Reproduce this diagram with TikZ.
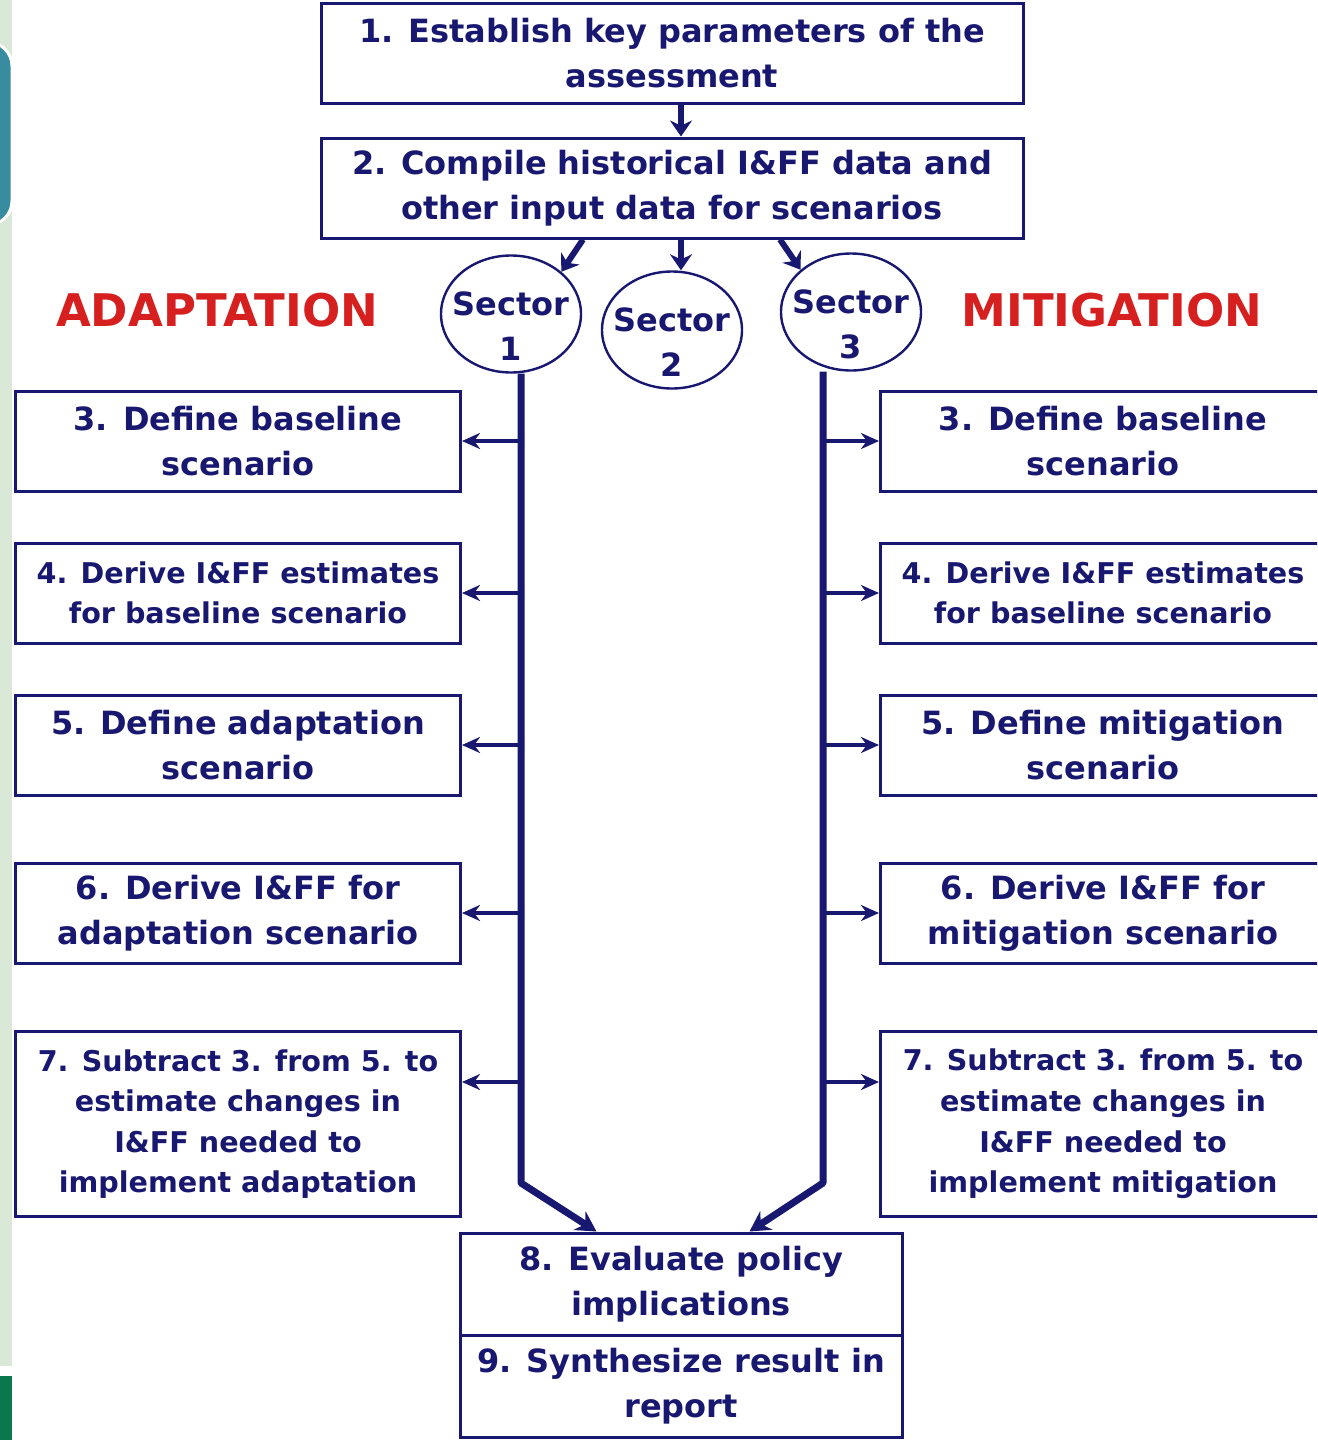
\documentclass[tikz,border=0pt]{standalone}
\usepackage{fontspec}
\setmainfont{DejaVu Sans}
\usepackage{xcolor}
\usetikzlibrary{positioning,shapes.geometric,arrows.meta}

\definecolor{navy}{RGB}{24,24,112}
\definecolor{titlered}{RGB}{214,32,32}
\definecolor{slidegreen}{RGB}{218,232,216}
\definecolor{slideteal}{RGB}{56,140,160}
\definecolor{slidedark}{RGB}{10,120,76}

\tikzset{
  bigtext/.style={font=\bfseries\fontsize{16}{22.5}\selectfont},
  smalltext/.style={font=\bfseries\fontsize{14.3}{20.3}\selectfont},
  topbox/.style={draw=navy, line width=1.5pt, text=navy, align=center, inner sep=0pt,
    minimum width=351pt, minimum height=50pt, bigtext},
  sidebox/.style={draw=navy, line width=1.5pt, text=navy, align=center, inner sep=0pt,
    minimum width=222.5pt, minimum height=50pt, bigtext},
  endbox/.style={draw=navy, line width=1.5pt, text=navy, align=center, inner sep=0pt,
    minimum width=221pt, minimum height=51pt, bigtext},
  sector/.style={ellipse, draw=navy, line width=1.2pt, text=navy, inner xsep=-8pt, inner ysep=-4pt,
    minimum width=70pt, minimum height=58.5pt, font=\bfseries\fontsize{16}{22.5}\selectfont},
  sidetitle/.style={text=titlered, font=\bfseries\fontsize{22.5}{26}\selectfont},
  feed/.style={draw=navy, line width=3pt, -{Stealth[length=8pt,width=11pt]}},
  branch/.style={draw=navy, line width=2pt, -{Stealth[length=9pt,width=8pt]}},
  spine/.style={draw=navy, line width=3.5pt, line join=round, -{Stealth[length=10pt,width=11pt]}}
}

\newcommand{\sectortext}[1]{\raisebox{-7.5pt}[\height][\depth]{\begin{tabular}{@{}c@{}}Sector\\#1\end{tabular}}}

\begin{document}
\begin{tikzpicture}[x=0.5pt,y=-0.5pt]

\clip (0,0) rectangle (1317,1440);
\fill[white] (0,0) rectangle (1317,1440);

% ===== Slide edge =====

\fill[slidegreen] (0,0) rectangle (12,1366);
\fill[slidedark] (0,1376) rectangle (12,1440);
\draw[white, line width=1.5pt, fill=slideteal, rounded corners=12pt] (-60,42) rectangle (12,225);

% ===== Common steps =====

\node[topbox] (s1) at (672,53) {1. Establish key parameters of the\\assessment};
\node[topbox] (s2) at (672,188) {2. Compile historical I\&FF data and\\other input data for scenarios};

% ===== Sectors =====

\node[sector] (sec1) at (511,314) {\sectortext{1}};
\node[sector] (sec2) at (672,330) {\sectortext{2}};
\node[sector] (sec3) at (851,312) {\sectortext{3}};

\node[sidetitle] (adapt) at (217,310) {ADAPTATION};
\node[sidetitle] (mitig) at (1112,310) {MITIGATION};

% ===== Adaptation =====

\node[sidebox] (a3) at (238,441) {3. Define baseline\\scenario};
\node[sidebox, smalltext] (a4) at (238,593) {4. Derive I\&FF estimates\\for baseline scenario};
\node[sidebox] (a5) at (238,745) {5. Define adaptation\\scenario};
\node[sidebox] (a6) at (238,913) {6. Derive I\&FF for\\adaptation scenario};
\node[sidebox, smalltext, minimum height=92.5pt] (a7) at (238,1124)
  {7. Subtract 3. from 5. to\\estimate changes in\\I\&FF needed to\\implement adaptation};

% ===== Mitigation =====

\node[sidebox] (m3) at (1103,441) {3. Define baseline\\scenario};
\node[sidebox, smalltext] (m4) at (1103,593) {4. Derive I\&FF estimates\\for baseline scenario};
\node[sidebox] (m5) at (1103,745) {5. Define mitigation\\scenario};
\node[sidebox] (m6) at (1103,913) {6. Derive I\&FF for\\mitigation scenario};
\node[sidebox, smalltext, minimum height=92.5pt] (m7) at (1103,1124)
  {7. Subtract 3. from 5. to\\estimate changes in\\I\&FF needed to\\implement mitigation};

% ===== Results =====

\node[endbox] (s8) at (681,1284) {8. Evaluate policy\\implications};
\node[endbox] (s9) at (681,1386) {9. Synthesize result in\\report};

% ===== Arrows =====

\draw[feed] ([xshift=4.5pt]s1.south) -- ([xshift=4.5pt]s2.north);
\draw[feed] ([xshift=-44.5pt]s2.south) -- (sec1.40);
\draw[feed] ([xshift=4.5pt]s2.south) -- ([xshift=4.5pt]sec2.north);
\draw[feed] ([xshift=54pt]s2.south) -- (sec3.140);

\coordinate (lbend) at (521,1183);
\coordinate (rbend) at (823,1183);

\draw[spine] (sec1.south -| lbend) -- (lbend) -- ([xshift=69pt]s8.north west);
\draw[spine] (sec3.south -| rbend) -- (rbend) -- ([xshift=-77pt]s8.north east);

\foreach \b in {a3,a4,a5,a6}
  \draw[branch] (\b.east -| lbend) -- (\b.east);
\draw[branch] ([yshift=21pt]a7.east -| lbend) -- ([yshift=21pt]a7.east);

\foreach \b in {m3,m4,m5,m6}
  \draw[branch] (\b.west -| rbend) -- (\b.west);
\draw[branch] ([yshift=21pt]m7.west -| rbend) -- ([yshift=21pt]m7.west);

\end{tikzpicture}
\end{document}
